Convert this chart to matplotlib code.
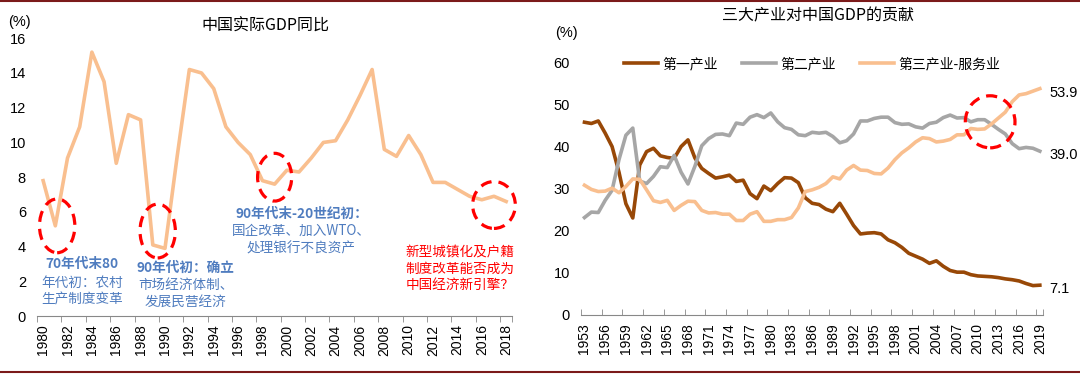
import numpy as np
import matplotlib
matplotlib.use("Agg")
import matplotlib.pyplot as plt
from matplotlib.patches import Ellipse
from matplotlib.lines import Line2D

plt.rcParams['font.family'] = ['Liberation Sans', 'Noto Sans CJK SC', 'DejaVu Sans']

# Left chart: real GDP growth (%)
gdp_years = list(range(1980, 2019))
gdp_growth = [7.8, 5.2, 9.1, 10.9, 15.2, 13.5, 8.8, 11.6, 11.3, 4.1,
              3.9, 9.2, 14.2, 14.0, 13.1, 10.9, 10.0, 9.3, 7.8, 7.6,
              8.4, 8.3, 9.1, 10.0, 10.1, 11.3, 12.7, 14.2, 9.6, 9.2,
              10.4, 9.3, 7.7, 7.7, 7.3, 6.9, 6.7, 6.9, 6.6]

# Right chart: share of the three sectors (%)
ind_years = list(range(1953, 2020))
primary = [45.9, 45.6, 46.2, 43.3, 40.1, 34.0, 26.5, 23.1, 35.7, 38.9,
           39.7, 37.9, 37.5, 37.3, 40.1, 41.7, 37.4, 34.9, 33.7, 32.6,
           32.9, 33.3, 31.8, 32.1, 28.9, 27.7, 30.7, 29.6, 31.3, 32.7,
           32.6, 31.5, 27.9, 26.6, 26.3, 25.2, 24.6, 26.6, 24.0, 21.3,
           19.3, 19.5, 19.6, 19.3, 17.9, 17.2, 16.1, 14.7, 14.0, 13.3,
           12.3, 12.9, 11.6, 10.6, 10.2, 10.2, 9.6, 9.3, 9.2, 9.1,
           8.9, 8.6, 8.4, 8.1, 7.5, 7.0, 7.1]
secondary = [23.2, 24.5, 24.4, 27.3, 29.7, 37.0, 42.8, 44.5, 31.9, 31.3,
             33.0, 35.3, 35.1, 38.0, 34.0, 31.2, 35.4, 40.3, 42.0, 43.0,
             43.1, 42.7, 45.7, 45.4, 47.1, 47.7, 47.0, 48.1, 46.0, 44.6,
             44.2, 42.9, 42.7, 43.5, 43.3, 43.5, 42.5, 41.0, 41.5, 43.1,
             46.2, 46.2, 46.8, 47.1, 47.1, 45.8, 45.4, 45.5, 44.8, 44.5,
             45.6, 45.9, 47.0, 47.6, 46.9, 47.0, 46.0, 46.5, 46.5, 45.4,
             44.2, 43.1, 40.8, 39.6, 39.9, 39.7, 39.0]
tertiary = [30.9, 29.9, 29.4, 29.5, 30.2, 29.1, 30.6, 32.4, 32.3, 29.8,
            27.2, 26.8, 27.3, 24.9, 26.1, 27.1, 27.0, 24.9, 24.3, 24.4,
            24.0, 24.0, 22.5, 22.5, 24.0, 24.6, 22.3, 22.3, 22.7, 22.7,
            23.2, 25.5, 29.4, 29.8, 30.4, 31.3, 32.9, 32.4, 34.5, 35.6,
            34.5, 34.4, 33.7, 33.6, 35.0, 37.0, 38.6, 39.8, 41.2, 42.2,
            42.0, 41.2, 41.4, 41.8, 42.9, 42.9, 44.4, 44.2, 44.3, 45.5,
            46.9, 48.3, 50.8, 52.4, 52.7, 53.3, 53.9]

ORANGE = '#F9BF8F'
BROWN = '#984807'
GRAY = '#A6A6A6'
BLUE = '#4F7CBF'
RED = '#FF0000'
CJK = ['Noto Sans CJK SC', 'DejaVu Sans']

fig = plt.figure(figsize=(10.8, 3.75), dpi=100)

# frame lines top and bottom
fig.add_artist(Line2D([0, 1], [0.997, 0.997], color='#7B1A1A', lw=1.5))
fig.add_artist(Line2D([0, 1], [0.008, 0.008], color='#7B1A1A', lw=1.5))


def style_axis(ax, n, step, tick_dir):
    for s in ['top', 'right', 'left']:
        ax.spines[s].set_visible(False)
    ax.spines['bottom'].set_color('#888888')
    ax.set_xlim(-0.5, n - 0.5)
    ax.set_xticks(np.arange(0, n, step))
    ax.tick_params(axis='x', which='major', length=0, labelsize=10,
                   rotation=90, pad=6)
    bounds = list(np.arange(-0.5, n - 0.5, step)) + [n - 0.5]
    ax.set_xticks(bounds, minor=True)
    ax.tick_params(axis='x', which='minor', length=4, color='#888888',
                   direction=tick_dir)
    ax.tick_params(axis='y', length=0, labelsize=10.5, pad=8)


def dashed_ellipse(ax, x, y, w, h):
    ax.add_patch(Ellipse((x, y), w, h, fill=False, edgecolor=RED, lw=2.3,
                         linestyle=(0, (3.5, 2.2)), clip_on=False, zorder=5))


def note(ax, x, ys, lines, color, bold_first=True):
    # one text per line so the first line can be bold
    for i, (y, s) in enumerate(zip(ys, lines)):
        ax.text(x, y, s, family=CJK, fontsize=9.8, color=color,
                ha='center', va='center',
                fontweight='bold' if (bold_first and i == 0) else 'normal')


# ---- left chart ----
ax1 = fig.add_axes([0.0343, 0.157, 0.44, 0.741])
x1 = np.arange(len(gdp_years))
ax1.plot(x1, gdp_growth, color=ORANGE, lw=2.6)
ax1.set_ylim(0, 16)
ax1.set_yticks(range(0, 17, 2))
style_axis(ax1, len(gdp_years), 2, 'out')
ax1.set_xticklabels([str(y) for y in gdp_years[::2]])
ax1.text(-0.06, 1.06, '(%)', transform=ax1.transAxes, fontsize=10.5,
         ha='left', va='center')
ax1.text(0.48, 1.043, '中国实际GDP同比', transform=ax1.transAxes,
         fontsize=11.5, family=CJK, ha='center', va='center')

dashed_ellipse(ax1, 1.15, 5.2, 2.9, 3.1)
dashed_ellipse(ax1, 9.4, 4.9, 2.9, 3.1)
dashed_ellipse(ax1, 19.0, 8.0, 2.8, 2.75)
dashed_ellipse(ax1, 37.0, 6.4, 3.5, 2.7)

note(ax1, 3.2, [3.0, 1.9, 0.95],
     ['70年代末80', '年代初：农村', '生产制度变革'], BLUE)
note(ax1, 11.7, [2.8, 1.8, 0.8],
     ['90年代初：确立', '市场经济体制、', '发展民营经济'], BLUE)
note(ax1, 21.2, [5.9, 4.9, 3.9],
     ['90年代末-20世纪初：', '国企改革、加入WTO、', '处理银行不良资产'], BLUE)
note(ax1, 34.2, [3.7, 2.7, 1.8],
     ['新型城镇化及户籍', '制度改革能否成为', '中国经济新引擎？'], RED,
     bold_first=False)

# ---- right chart ----
ax2 = fig.add_axes([0.538, 0.16, 0.428, 0.672])
x2 = np.arange(len(ind_years))
ax2.plot(x2, primary, color=BROWN, lw=2.6, label='第一产业')
ax2.plot(x2, secondary, color=GRAY, lw=2.6, label='第二产业')
ax2.plot(x2, tertiary, color=ORANGE, lw=2.6, label='第三产业-服务业')
ax2.set_ylim(0, 60)
ax2.set_yticks(range(0, 61, 10))
style_axis(ax2, len(ind_years), 3, 'in')
ax2.set_xticklabels([str(y) for y in ind_years[::3]])
ax2.text(-0.055, 1.12, '(%)', transform=ax2.transAxes, fontsize=10.5,
         ha='left', va='center')
fig.text(0.757, 0.958, '三大产业对中国GDP的贡献', fontsize=11.5, family=CJK,
         ha='center', va='center')

for series in (tertiary, secondary, primary):
    ax2.annotate(f'{series[-1]:.1f}', xy=(x2[-1], series[-1]),
                 xytext=(7, -3), textcoords='offset points', fontsize=10.5,
                 ha='left', va='center', annotation_clip=False)

dashed_ellipse(ax2, 58.8, 46.0, 7.2, 12.4)

leg = fig.legend(loc='center', bbox_to_anchor=(0.752, 0.829), ncol=3,
                 frameon=False, prop={'family': CJK, 'size': 10},
                 handlelength=2.4, columnspacing=1.8, handletextpad=0.3)

fig.savefig('out.png', dpi=100)
